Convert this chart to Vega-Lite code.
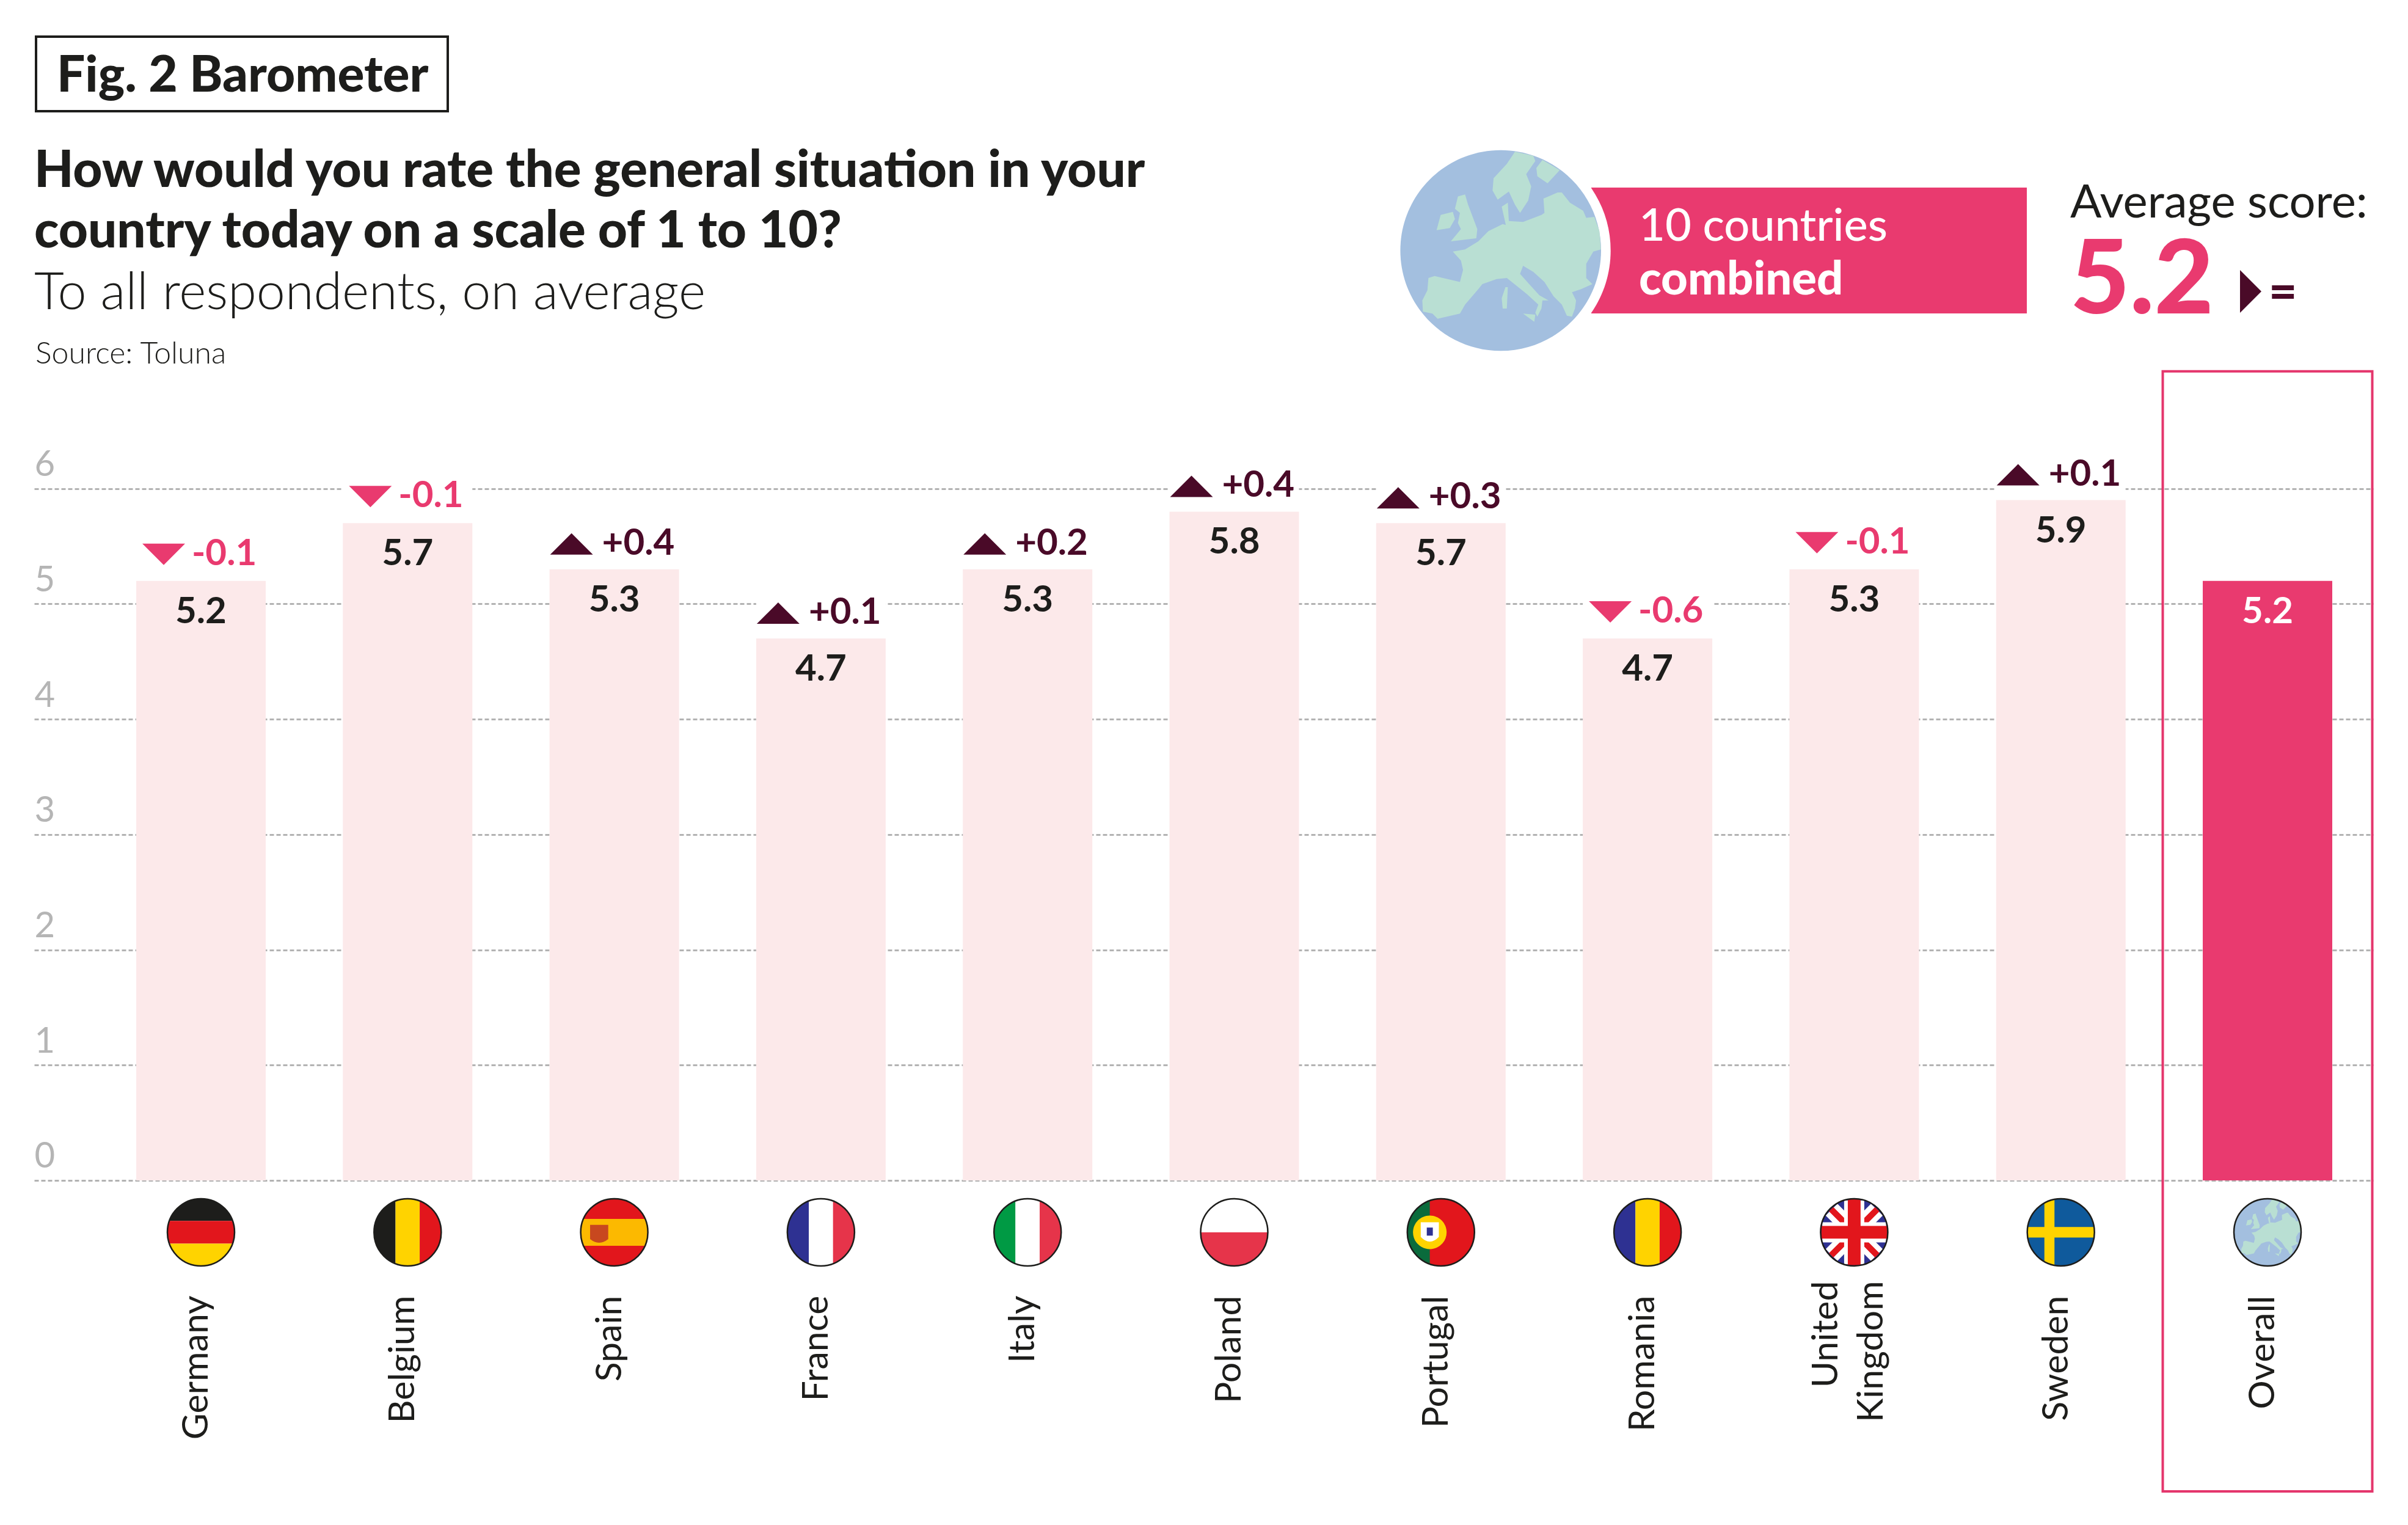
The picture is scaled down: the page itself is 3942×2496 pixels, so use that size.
{
"$schema":"https://vega.github.io/schema/vega-lite/v6.json",
"width":3829,"height":2496,
"autosize":{"type":"none"},
"padding":{"left":56,"right":57,"top":0,"bottom":0},
"background":"white",
"title":{"text":["How would you rate the general situation in your","country today on a scale of 1 to 10?"],"subtitle":"To all respondents, on average","anchor":"start","frame":"group","offset":-523,"font":"Lato","fontWeight":900,"fontSize":83.6,"lineHeight":99,"color":"#1d1d1b","subtitleFont":"Lato","subtitleFontWeight":300,"subtitleFontSize":84.5,"subtitleLineHeight":99,"subtitleColor":"#1d1d1b","subtitlePadding":16},
"config":{"view":{"stroke":null}},
"datasets":{
"scores":[
{"country":"Germany","score":5.2,"change":-0.1,"change_label":"-0.1"},
{"country":"Belgium","score":5.7,"change":-0.1,"change_label":"-0.1"},
{"country":"Spain","score":5.3,"change":0.4,"change_label":"+0.4"},
{"country":"France","score":4.7,"change":0.1,"change_label":"+0.1"},
{"country":"Italy","score":5.3,"change":0.2,"change_label":"+0.2"},
{"country":"Poland","score":5.8,"change":0.4,"change_label":"+0.4"},
{"country":"Portugal","score":5.7,"change":0.3,"change_label":"+0.3"},
{"country":"Romania","score":4.7,"change":-0.6,"change_label":"-0.6"},
{"country":"United Kingdom","score":5.3,"change":-0.1,"change_label":"-0.1"},
{"country":"Sweden","score":5.9,"change":0.1,"change_label":"+0.1"},
{"country":"Overall","score":5.2,"change":null,"change_label":null}
],
"flags":[
{"country":"Germany","part":"band top","tint":"black"},
{"country":"Germany","part":"band mid","tint":"red"},
{"country":"Germany","part":"band bottom","tint":"gold"},
{"country":"Belgium","part":"stripe left","tint":"black"},
{"country":"Belgium","part":"stripe mid","tint":"gold"},
{"country":"Belgium","part":"stripe right","tint":"red"},
{"country":"Spain","part":"disc","tint":"red"},
{"country":"Spain","part":"band wide","tint":"amber"},
{"country":"Spain","part":"crest","tint":"brick"},
{"country":"France","part":"stripe left","tint":"navy"},
{"country":"France","part":"stripe mid","tint":"white"},
{"country":"France","part":"stripe right","tint":"rose"},
{"country":"Italy","part":"stripe left","tint":"green"},
{"country":"Italy","part":"stripe mid","tint":"white"},
{"country":"Italy","part":"stripe right","tint":"rose"},
{"country":"Poland","part":"disc","tint":"white"},
{"country":"Poland","part":"lower half","tint":"rose"},
{"country":"Portugal","part":"disc","tint":"red"},
{"country":"Portugal","part":"hoist","tint":"forest"},
{"country":"Portugal","part":"sphere","tint":"gold"},
{"country":"Portugal","part":"shield","tint":"white"},
{"country":"Portugal","part":"shield core","tint":"navy"},
{"country":"Romania","part":"stripe left","tint":"navy"},
{"country":"Romania","part":"stripe mid","tint":"gold"},
{"country":"Romania","part":"stripe right","tint":"red"},
{"country":"United Kingdom","part":"disc","tint":"navy"},
{"country":"United Kingdom","part":"saltire wide","tint":"white"},
{"country":"United Kingdom","part":"saltire thin","tint":"red"},
{"country":"United Kingdom","part":"cross wide","tint":"white"},
{"country":"United Kingdom","part":"cross thin","tint":"red"},
{"country":"Sweden","part":"disc","tint":"blue"},
{"country":"Sweden","part":"nordic cross","tint":"gold"},
{"country":"Overall","part":"disc","tint":"ocean"},
{"country":"Overall","part":"europe","tint":"land"}
]
},
"layer":[
{
"layer":[
{"data":{"name":"scores"},"mark":{"type":"tick","color":"white","opacity":1,"thickness":112,"size":212,"yOffset":-56},
 "encoding":{
 "x":{"field":"country","type":"nominal","title":null,"sort":null,
 "scale":{"domain":["Germany","Belgium","Spain","France","Italy","Poland","Portugal","Romania","United Kingdom","Sweden","Overall"],"paddingInner":0.3733,"paddingOuter":0.3458,"align":0.7137},
 "axis":{"orient":"bottom","offset":-376,"domain":false,"ticks":false,"tickSize":0,"labelPadding":0,"labelAngle":-90,"labelAlign":"right","labelBaseline":"middle","labelOffset":-7,"labelFont":"Lato","labelFontSize":59,"labelColor":"#1d1d1b","labelLineHeight":74,"labelOverlap":false,"labelLimit":0,"labelExpr":"datum.label==='United Kingdom'?['United','Kingdom']:datum.label",
  "encoding":{"labels":{"dx":{"condition":{"test":"datum.value==='United Kingdom'","value":24},"value":0},"dy":{"condition":{"test":"datum.value==='United Kingdom'","value":-38},"value":0}}}}},
 "y":{"field":"score","type":"quantitative","title":null,
 "scale":{"domain":[-2.989,10.238],"nice":false,"zero":false},
 "axis":{"orient":"left","values":[0,1,2,3,4,5,6],"format":"d","domain":false,"ticks":false,"tickSize":0,"labelPadding":0,"labelAlign":"left","labelBaseline":"alphabetic","labelOffset":-21,"labelFont":"Lato","labelFontSize":58,"labelColor":"#b5b5b5","labelOverlap":false,"grid":true,"gridColor":"#b3b3b3","gridDash":[7,4],"gridWidth":3}}}},
{"data":{"name":"scores"},"mark":{"type":"bar","size":212},
 "encoding":{
 "x":{"field":"country","type":"nominal","title":null,"sort":null,"scale":{"domain":["Germany","Belgium","Spain","France","Italy","Poland","Portugal","Romania","United Kingdom","Sweden","Overall"],"paddingInner":0.3733,"paddingOuter":0.3458,"align":0.7137}},
 "y":{"field":"score","type":"quantitative","title":null,"scale":{"domain":[-2.989,10.238],"nice":false,"zero":false}},
 "color":{"condition":{"test":"datum.country==='Overall'","value":"#e93a6f"},"value":"#fce9ea"}}},
{"data":{"name":"scores"},"mark":{"type":"text","font":"Lato","fontWeight":"bold","fontSize":60,"baseline":"alphabetic","align":"center","dy":69},
 "encoding":{
 "x":{"field":"country","type":"nominal","title":null,"sort":null,"scale":{"domain":["Germany","Belgium","Spain","France","Italy","Poland","Portugal","Romania","United Kingdom","Sweden","Overall"],"paddingInner":0.3733,"paddingOuter":0.3458,"align":0.7137}},
 "y":{"field":"score","type":"quantitative","title":null,"scale":{"domain":[-2.989,10.238],"nice":false,"zero":false}},
 "text":{"field":"score","type":"quantitative","format":".1f"},
 "color":{"condition":{"test":"datum.country==='Overall'","value":"#ffffff"},"value":"#1d1d1b"}}},
{"data":{"name":"scores"},"transform":[{"filter":"datum.change<0"}],
 "mark":{"type":"point","filled":true,"opacity":1,"color":"#e93a6f","size":4900,"shape":"M-1,-0.5L1,-0.5L0,0.5Z","xOffset":-61,"yOffset":-43.5},
 "encoding":{
 "x":{"field":"country","type":"nominal","title":null,"sort":null,"scale":{"domain":["Germany","Belgium","Spain","France","Italy","Poland","Portugal","Romania","United Kingdom","Sweden","Overall"],"paddingInner":0.3733,"paddingOuter":0.3458,"align":0.7137}},
 "y":{"field":"score","type":"quantitative","title":null,"scale":{"domain":[-2.989,10.238],"nice":false,"zero":false}}}},
{"data":{"name":"scores"},"transform":[{"filter":"datum.change>0"}],
 "mark":{"type":"point","filled":true,"opacity":1,"color":"#4a0a28","size":4900,"shape":"M-1,0.5L1,0.5L0,-0.5Z","xOffset":-70,"yOffset":-41.5},
 "encoding":{
 "x":{"field":"country","type":"nominal","title":null,"sort":null,"scale":{"domain":["Germany","Belgium","Spain","France","Italy","Poland","Portugal","Romania","United Kingdom","Sweden","Overall"],"paddingInner":0.3733,"paddingOuter":0.3458,"align":0.7137}},
 "y":{"field":"score","type":"quantitative","title":null,"scale":{"domain":[-2.989,10.238],"nice":false,"zero":false}}}},
{"data":{"name":"scores"},"transform":[{"filter":"datum.change<0"}],
 "mark":{"type":"text","font":"Lato","fontWeight":"bold","fontSize":60,"baseline":"alphabetic","align":"left","color":"#e93a6f","xOffset":-15,"yOffset":-26},
 "encoding":{
 "x":{"field":"country","type":"nominal","title":null,"sort":null,"scale":{"domain":["Germany","Belgium","Spain","France","Italy","Poland","Portugal","Romania","United Kingdom","Sweden","Overall"],"paddingInner":0.3733,"paddingOuter":0.3458,"align":0.7137}},
 "y":{"field":"score","type":"quantitative","title":null,"scale":{"domain":[-2.989,10.238],"nice":false,"zero":false}},
 "text":{"field":"change_label","type":"nominal"}}},
{"data":{"name":"scores"},"transform":[{"filter":"datum.change>0"}],
 "mark":{"type":"text","font":"Lato","fontWeight":"bold","fontSize":60,"baseline":"alphabetic","align":"left","color":"#4a0a28","xOffset":-20,"yOffset":-24},
 "encoding":{
 "x":{"field":"country","type":"nominal","title":null,"sort":null,"scale":{"domain":["Germany","Belgium","Spain","France","Italy","Poland","Portugal","Romania","United Kingdom","Sweden","Overall"],"paddingInner":0.3733,"paddingOuter":0.3458,"align":0.7137}},
 "y":{"field":"score","type":"quantitative","title":null,"scale":{"domain":[-2.989,10.238],"nice":false,"zero":false}},
 "text":{"field":"change_label","type":"nominal"}}},
{"data":{"name":"flags"},"mark":{"type":"point","filled":true,"opacity":1,"size":12100},
 "encoding":{
 "x":{"field":"country","type":"nominal","title":null,"sort":null,
  "scale":{"domain":["Germany","Belgium","Spain","France","Italy","Poland","Portugal","Romania","United Kingdom","Sweden","Overall"],"paddingInner":0.3733,"paddingOuter":0.3458,"align":0.7137}},
 "y":{"datum":-0.45,"type":"quantitative","title":null,"scale":{"domain":[-2.989,10.238],"nice":false,"zero":false}},
 "shape":{"field":"part","type":"nominal","legend":null,"scale":{
  "domain":["disc","band top","band mid","band bottom","band wide","stripe left","stripe mid","stripe right","lower half","hoist","crest","sphere","shield","shield core","saltire wide","saltire thin","cross wide","cross thin","nordic cross","europe"],
  "range":[
  "M-1,0A1,1 0 1,1 1,0A1,1 0 1,1 -1,0Z",
  "M-0.94,-0.34A1,1 0 0 1 0.94,-0.34Z",
  "M-0.94,-0.34L0.94,-0.34A1,1 0 0 1 0.94,0.34L-0.94,0.34A1,1 0 0 1 -0.94,-0.34Z",
  "M-0.94,0.34A1,1 0 0 0 0.94,0.34Z",
  "M-0.917,-0.4L0.917,-0.4A1,1 0 0 1 0.917,0.4L-0.917,0.4A1,1 0 0 1 -0.917,-0.4Z",
  "M-0.36,-0.933A1,1 0 0 0 -0.36,0.933Z",
  "M-0.36,-0.933A1,1 0 0 1 0.36,-0.933L0.36,0.933A1,1 0 0 1 -0.36,0.933Z",
  "M0.36,-0.933A1,1 0 0 1 0.36,0.933Z",
  "M-1,0L1,0A1,1 0 0 1 -1,0Z",
  "M-0.33,-0.944A1,1 0 0 0 -0.33,0.944Z",
  "M-0.72,-0.22L-0.18,-0.22L-0.18,0.2Q-0.45,0.42 -0.72,0.2Z",
  "M-0.83,0A0.5,0.5 0 1,1 0.17,0A0.5,0.5 0 1,1 -0.83,0Z",
  "M-0.6,-0.3L-0.06,-0.3L-0.06,0.14Q-0.33,0.42 -0.6,0.14Z",
  "M-0.42,-0.14L-0.24,-0.14L-0.24,0.1L-0.42,0.1Z",
  "M-0.85,-0.5L-0.5,-0.85L0.85,0.5L0.5,0.85ZM0.5,-0.85L0.85,-0.5L-0.5,0.85L-0.85,0.5Z",
  "M-0.75,-0.62L-0.62,-0.75L0.75,0.62L0.62,0.75ZM0.62,-0.75L0.75,-0.62L-0.62,0.75L-0.75,0.62Z",
  "M-0.3,-0.95L0.3,-0.95L0.3,-0.3L0.95,-0.3L0.95,0.3L0.3,0.3L0.3,0.95L-0.3,0.95L-0.3,0.3L-0.95,0.3L-0.95,-0.3L-0.3,-0.3Z",
  "M-0.19,-0.98L0.19,-0.98L0.19,-0.19L0.98,-0.19L0.98,0.19L0.19,0.19L0.19,0.98L-0.19,0.98L-0.19,0.19L-0.98,0.19L-0.98,-0.19L-0.19,-0.19Z",
  "M-0.49,-0.87L-0.19,-0.98L-0.19,-0.155L0.988,-0.155L0.988,0.155L-0.19,0.155L-0.19,0.98L-0.49,0.87L-0.49,0.155L-0.988,0.155L-0.988,-0.155L-0.49,-0.155Z",
  "M-0.775,0.609L-0.781,0.497L-0.73,0.396L-0.72,0.274L-0.659,0.254L-0.406,0.314L-0.375,0.193L-0.396,0.101L-0.477,0.01L-0.355,-0.01L-0.223,-0.091L-0.122,-0.193L0.02,-0.264L0.051,-0.254L0.01,-0.436L0.071,-0.477L0.081,-0.294L0.223,-0.284L0.406,-0.355L0.436,-0.375L0.426,-0.517L0.568,-0.578L0.609,-0.578L0.69,-0.477L0.822,-0.396L0.852,-0.325L0.933,-0.335L0.984,-0.193L0.998,-0.01L0.923,0.01L0.852,0.132L0.852,0.274L0.913,0.335L0.801,0.385L0.71,0.416L0.751,0.497L0.74,0.578L0.71,0.659L0.659,0.649L0.609,0.538L0.527,0.456L0.436,0.314L0.325,0.213L0.223,0.152L0.193,0.233L0.284,0.335L0.385,0.446L0.477,0.497L0.416,0.497L0.406,0.578L0.365,0.659L0.345,0.619L0.375,0.538L0.264,0.436L0.162,0.355L0.061,0.274L-0.041,0.284L-0.183,0.335L-0.223,0.385L-0.355,0.538L-0.406,0.629L-0.629,0.68L-0.68,0.629ZM0.142,-0.984L0.325,-0.943L0.345,-0.892L0.254,-0.761L0.304,-0.639L0.274,-0.497L0.193,-0.375L0.142,-0.456L0.081,-0.588L-0.03,-0.507L-0.081,-0.598L-0.071,-0.72L0.061,-0.862ZM0.416,-0.903L0.588,-0.801L0.467,-0.669L0.365,-0.74L0.355,-0.822ZM-0.426,-0.538L-0.355,-0.558L-0.325,-0.456L-0.233,-0.213L-0.243,-0.122L-0.497,-0.091L-0.396,-0.213L-0.426,-0.274L-0.406,-0.375L-0.456,-0.416ZM-0.598,-0.355L-0.477,-0.385L-0.456,-0.314L-0.507,-0.223L-0.639,-0.203ZM0.047,0.365L0.071,0.365L0.061,0.578L0.02,0.578L0.01,0.477ZM0.223,0.629L0.345,0.639L0.335,0.71Z"
  ]}},
 "color":{"field":"tint","type":"nominal","legend":null,"scale":{
  "domain":["black","red","gold","amber","navy","rose","green","white","blue","forest","ocean","land","brick"],
  "range":["#1d1d1b","#e2161c","#ffd300","#fcb900","#2e3192","#e6344a","#009a44","#ffffff","#0f5a9c","#0a6b3c","#a3bfdf","#b9dfd3","#c8481f"]}}}},
{"data":{"name":"scores"},"mark":{"type":"point","filled":false,"opacity":1,"size":12100,"stroke":"#1d1d1b","strokeWidth":2.5,"shape":"M-1,0A1,1 0 1,1 1,0A1,1 0 1,1 -1,0Z"},
 "encoding":{"x":{"field":"country","type":"nominal","title":null,"sort":null,
  "scale":{"domain":["Germany","Belgium","Spain","France","Italy","Poland","Portugal","Romania","United Kingdom","Sweden","Overall"],"paddingInner":0.3733,"paddingOuter":0.3458,"align":0.7137}},
  "y":{"datum":-0.45,"type":"quantitative","title":null,"scale":{"domain":[-2.989,10.238],"nice":false,"zero":false}}}},
{"data":{"values":[{"panel":"Overall"}]},"mark":{"type":"bar","width":343,"fillOpacity":0,"fill":"white","stroke":"#e4366c","strokeWidth":4},
 "encoding":{"x":{"field":"panel","type":"nominal","title":null,
  "scale":{"domain":["Germany","Belgium","Spain","France","Italy","Poland","Portugal","Romania","United Kingdom","Sweden","Overall"],"paddingInner":0.3733,"paddingOuter":0.3458,"align":0.7137}},
  "y":{"datum":7.017,"type":"quantitative","title":null,"scale":{"domain":[-2.989,10.238],"nice":false,"zero":false}},"y2":{"datum":-2.697}}}
]
},
{
"data":{"values":[{"note":"header"}]},
"layer":[
{"mark":{"type":"rect","fillOpacity":0,"fill":"white","stroke":"#1d1d1b","strokeWidth":4},
 "encoding":{"x":{"datum":3,"type":"quantitative","scale":{"domain":[0,3829]},"axis":null},"x2":{"datum":677},"y":{"datum":60,"type":"quantitative","scale":{"domain":[2496,0]},"axis":null},"y2":{"datum":182}}},
{"mark":{"type":"text","font":"Lato","fontWeight":900,"fontSize":82,"baseline":"alphabetic","align":"left","color":"#1d1d1b"},
 "encoding":{"text":{"value":"Fig. 2 Barometer"},"x":{"datum":37,"type":"quantitative","scale":{"domain":[0,3829]},"axis":null},"y":{"datum":150,"type":"quantitative","scale":{"domain":[2496,0]},"axis":null}}},
{"mark":{"type":"text","font":"Lato","fontWeight":300,"fontSize":50,"baseline":"alphabetic","align":"left","color":"#1d1d1b"},
 "encoding":{"text":{"value":"Source: Toluna"},"x":{"datum":2,"type":"quantitative","scale":{"domain":[0,3829]},"axis":null},"y":{"datum":595,"type":"quantitative","scale":{"domain":[2496,0]},"axis":null}}},
{"mark":{"type":"rect","color":"#e93a6f"},
 "encoding":{"x":{"datum":2549,"type":"quantitative","scale":{"domain":[0,3829]},"axis":null},"x2":{"datum":3262},"y":{"datum":307,"type":"quantitative","scale":{"domain":[2496,0]},"axis":null},"y2":{"datum":513}}},
{"mark":{"type":"point","filled":true,"opacity":1,"color":"white","size":129600,"shape":"M-1,0A1,1 0 1,1 1,0A1,1 0 1,1 -1,0Z"},
 "encoding":{"x":{"datum":2400.7,"type":"quantitative","scale":{"domain":[0,3829]},"axis":null},"y":{"datum":410,"type":"quantitative","scale":{"domain":[2496,0]},"axis":null}}},
{"mark":{"type":"point","filled":true,"opacity":1,"color":"#a3bfdf","size":107978,"shape":"M-1,0A1,1 0 1,1 1,0A1,1 0 1,1 -1,0Z"},
 "encoding":{"x":{"datum":2400.7,"type":"quantitative","scale":{"domain":[0,3829]},"axis":null},"y":{"datum":410,"type":"quantitative","scale":{"domain":[2496,0]},"axis":null}}},
{"mark":{"type":"point","filled":true,"opacity":1,"color":"#b9dfd3","size":107978,"shape":"M-0.775,0.609L-0.781,0.497L-0.73,0.396L-0.72,0.274L-0.659,0.254L-0.406,0.314L-0.375,0.193L-0.396,0.101L-0.477,0.01L-0.355,-0.01L-0.223,-0.091L-0.122,-0.193L0.02,-0.264L0.051,-0.254L0.01,-0.436L0.071,-0.477L0.081,-0.294L0.223,-0.284L0.406,-0.355L0.436,-0.375L0.426,-0.517L0.568,-0.578L0.609,-0.578L0.69,-0.477L0.822,-0.396L0.852,-0.325L0.933,-0.335L0.984,-0.193L0.998,-0.01L0.923,0.01L0.852,0.132L0.852,0.274L0.913,0.335L0.801,0.385L0.71,0.416L0.751,0.497L0.74,0.578L0.71,0.659L0.659,0.649L0.609,0.538L0.527,0.456L0.436,0.314L0.325,0.213L0.223,0.152L0.193,0.233L0.284,0.335L0.385,0.446L0.477,0.497L0.416,0.497L0.406,0.578L0.365,0.659L0.345,0.619L0.375,0.538L0.264,0.436L0.162,0.355L0.061,0.274L-0.041,0.284L-0.183,0.335L-0.223,0.385L-0.355,0.538L-0.406,0.629L-0.629,0.68L-0.68,0.629ZM0.142,-0.984L0.325,-0.943L0.345,-0.892L0.254,-0.761L0.304,-0.639L0.274,-0.497L0.193,-0.375L0.142,-0.456L0.081,-0.588L-0.03,-0.507L-0.081,-0.598L-0.071,-0.72L0.061,-0.862ZM0.416,-0.903L0.588,-0.801L0.467,-0.669L0.365,-0.74L0.355,-0.822ZM-0.426,-0.538L-0.355,-0.558L-0.325,-0.456L-0.233,-0.213L-0.243,-0.122L-0.497,-0.091L-0.396,-0.213L-0.426,-0.274L-0.406,-0.375L-0.456,-0.416ZM-0.598,-0.355L-0.477,-0.385L-0.456,-0.314L-0.507,-0.223L-0.639,-0.203ZM0.047,0.365L0.071,0.365L0.061,0.578L0.02,0.578L0.01,0.477ZM0.223,0.629L0.345,0.639L0.335,0.71Z"},
 "encoding":{"x":{"datum":2400.7,"type":"quantitative","scale":{"domain":[0,3829]},"axis":null},"y":{"datum":410,"type":"quantitative","scale":{"domain":[2496,0]},"axis":null}}},
{"mark":{"type":"text","font":"Lato","fontWeight":500,"fontSize":74,"baseline":"alphabetic","align":"left","color":"white"},
 "encoding":{"text":{"value":"10 countries"},"x":{"datum":2627,"type":"quantitative","scale":{"domain":[0,3829]},"axis":null},"y":{"datum":394,"type":"quantitative","scale":{"domain":[2496,0]},"axis":null}}},
{"mark":{"type":"text","font":"Lato","fontWeight":900,"fontSize":76,"baseline":"alphabetic","align":"left","color":"white"},
 "encoding":{"text":{"value":"combined"},"x":{"datum":2627,"type":"quantitative","scale":{"domain":[0,3829]},"axis":null},"y":{"datum":482,"type":"quantitative","scale":{"domain":[2496,0]},"axis":null}}},
{"mark":{"type":"text","font":"Lato","fontSize":76,"baseline":"alphabetic","align":"left","color":"#1d1d1b"},
 "encoding":{"text":{"value":"Average score:"},"x":{"datum":3333,"type":"quantitative","scale":{"domain":[0,3829]},"axis":null},"y":{"datum":356,"type":"quantitative","scale":{"domain":[2496,0]},"axis":null}}},
{"mark":{"type":"text","font":"Lato","fontWeight":900,"fontSize":168,"baseline":"alphabetic","align":"left","color":"#e93a6f"},
 "encoding":{"text":{"value":"5.2"},"x":{"datum":3333,"type":"quantitative","scale":{"domain":[0,3829]},"axis":null},"y":{"datum":513,"type":"quantitative","scale":{"domain":[2496,0]},"axis":null}}},
{"mark":{"type":"point","filled":true,"opacity":1,"color":"#4a0a28","size":4900,"shape":"M-0.5,-1L0.5,0L-0.5,1Z"},
 "encoding":{"x":{"datum":3628.5,"type":"quantitative","scale":{"domain":[0,3829]},"axis":null},"y":{"datum":477,"type":"quantitative","scale":{"domain":[2496,0]},"axis":null}}},
{"mark":{"type":"text","font":"Lato","fontWeight":900,"fontSize":80,"baseline":"alphabetic","align":"left","color":"#4a0a28"},
 "encoding":{"text":{"value":"="},"x":{"datum":3658,"type":"quantitative","scale":{"domain":[0,3829]},"axis":null},"y":{"datum":505,"type":"quantitative","scale":{"domain":[2496,0]},"axis":null}}}
]
}
],
"resolve":{"scale":{"x":"independent","y":"independent"}}
}
